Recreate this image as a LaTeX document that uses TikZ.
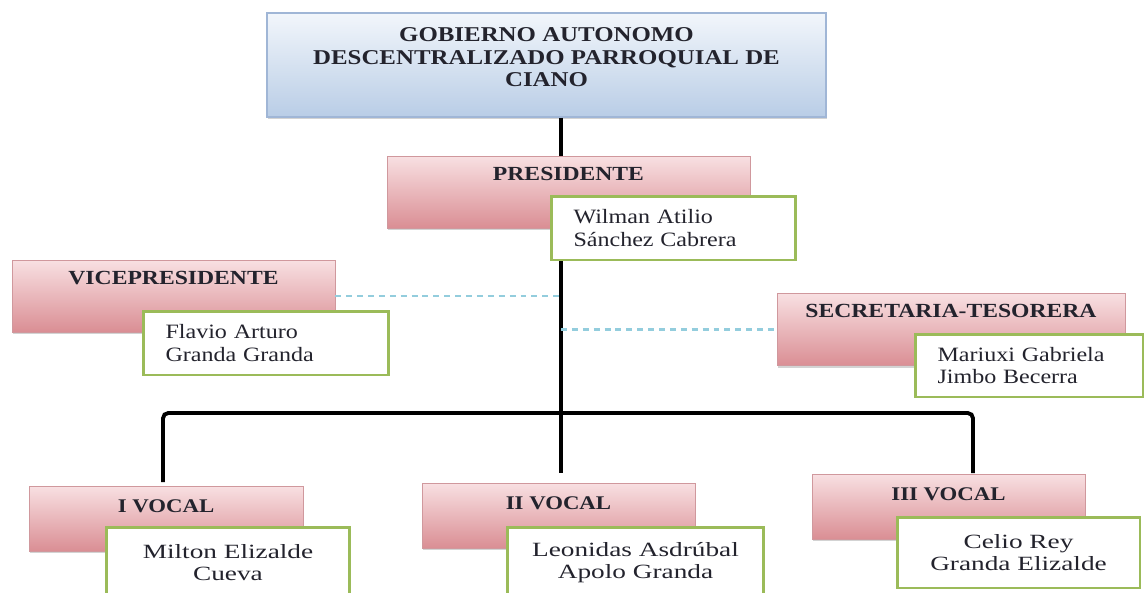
\documentclass[tikz,border=0pt]{standalone}
\usepackage{fontspec}
\setmainfont{Liberation Serif}[FakeStretch=1.18]
\newfontfamily\widefont{Liberation Serif}[FakeStretch=1.35]
\usetikzlibrary{positioning,shadows}
\definecolor{headblue}{RGB}{185, 205, 230}
\definecolor{headlight}{RGB}{242, 246, 251}
\definecolor{headborder}{RGB}{160, 182, 214}
\definecolor{rolepink}{RGB}{218, 142, 148}
\definecolor{rolelight}{RGB}{248, 224, 226}
\definecolor{roleborder}{RGB}{208, 152, 157}
\definecolor{namegreen}{RGB}{155, 187, 89}
\definecolor{dashblue}{RGB}{147, 205, 221}
\definecolor{textdark}{RGB}{35, 35, 45}

\begin{document}
\begin{tikzpicture}[
        x=0.02cm, y=-0.02cm,
        headbox/.style={rectangle, draw=headborder, thick, top color=headlight, bottom color=headblue, minimum width=11.18cm, minimum height=2.08cm, drop shadow={shadow xshift=0.6pt, shadow yshift=-1.2pt, opacity=0.35}},
        headtext/.style={align=center, text=textdark, font=\fontsize{12}{12.8}\selectfont\bfseries},
        rolebox/.style={rectangle, draw=roleborder, thin, top color=rolelight, bottom color=rolepink, minimum height=1.44cm, inner ysep=0pt, text height=0.48cm, text depth=0.96cm, text=textdark, font=\fontsize{11.4}{13}\selectfont\bfseries, drop shadow={shadow xshift=0.6pt, shadow yshift=-1.2pt, opacity=0.35}},
        vocalbox/.style={rolebox, minimum height=1.3cm, text height=0.52cm, text depth=0.78cm, font=\fontsize{11}{13}\selectfont\bfseries},
        namebox/.style={rectangle, draw=namegreen, line width=1.7pt, fill=white, minimum height=1.28cm, inner xsep=0.45cm, align=left, text=textdark, font=\fontsize{11.6}{13}\selectfont},
        vnamebox/.style={namebox, align=center, minimum height=1.42cm, font=\widefont\fontsize{11.5}{12.2}\selectfont},
        orgline/.style={line width=2.2pt, black},
        dashline/.style={line width=1.3pt, dashblue, dash pattern=on 3.4pt off 2.8pt}
    ]
    \useasboundingbox (0,0) rectangle (1145,592);

    % Junta parroquial
    \node[headbox] (gad) at (546.5, 65) {};
    \node[headtext] (gadT) at (546.5, 57.5) {GOBIERNO AUTONOMO\\ DESCENTRALIZADO PARROQUIAL DE\\ CIANO};

    % Presidente
    \node[rolebox, minimum width=7.26cm] (pres) at (568.5, 192) {PRESIDENTE};
    \node[namebox, text width=4.0cm] (presN) at (673.5, 228) {Wilman Atilio\\ Sánchez Cabrera};

    % Vicepresidente y secretaria
    \node[rolebox, minimum width=6.46cm] (vp) at (173.5, 296) {VICEPRESIDENTE};
    \node[namebox, text width=4.02cm] (vpN) at (266, 343) {Flavio Arturo\\ Granda Granda};
    \node[rolebox, minimum width=6.96cm] (sec) at (951, 329.5) {SECRETARIA-TESORERA};
    \node[namebox, text width=3.66cm, minimum height=1.26cm] (secN) at (1029, 365.5) {Mariuxi Gabriela\\ Jimbo Becerra};

    % Vocales
    \node[vocalbox, minimum width=5.48cm] (voc1) at (166, 518.5) {I VOCAL};
    \node[vocalbox, minimum width=5.46cm] (voc2) at (558.5, 515.5) {II VOCAL};
    \node[vocalbox, minimum width=5.46cm] (voc3) at (948.5, 506.5) {III VOCAL};
    \node[vnamebox, minimum width=4.88cm] (voc1N) at (228, 562.5) {Milton Elizalde\\ Cueva};
    \node[vnamebox, minimum width=5.14cm] (voc2N) at (635.5, 562.5) {Leonidas Asdrúbal\\ Apolo Granda};
    \node[vnamebox, minimum width=4.86cm] (voc3N) at (1018.5, 552.5) {Celio Rey\\ Granda Elizalde};

    % Lineas
    \coordinate (bus) at (561, 413);
    \coordinate (drop1) at (163, 482);
    \coordinate (drop2) at (561, 473);
    \coordinate (drop3) at (973, 473);
    \draw[orgline] (gad.south -| bus) -- (pres.north -| bus);
    \draw[orgline] (presN.south -| bus) -- (bus);
    \draw[orgline, rounded corners=3pt] (drop1) |- (bus) -| (drop3);
    \draw[orgline] (bus) -- (drop2);
    \draw[dashline] (vp.east) -- (vp.east -| bus);
    \draw[dashline] (sec.west -| bus) -- (sec.west);

\end{tikzpicture}
\end{document}
